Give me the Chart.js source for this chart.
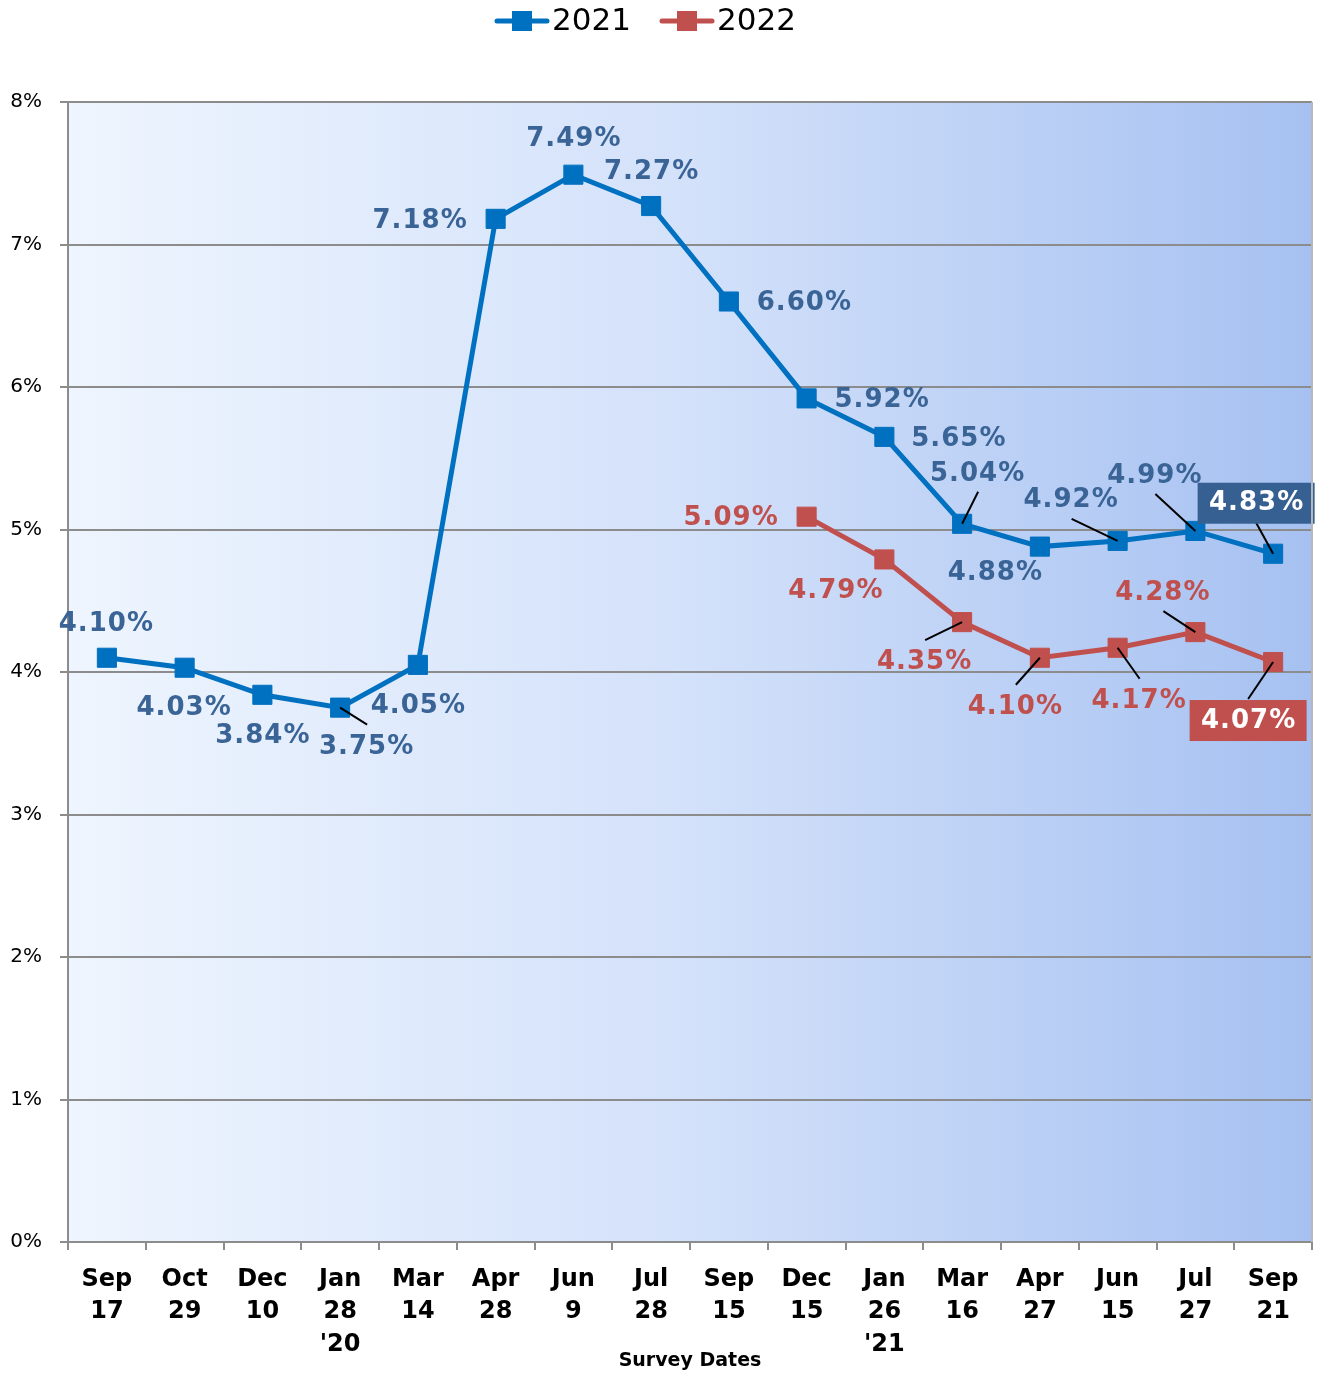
<!DOCTYPE html>
<html><head><meta charset="utf-8">
<script src="https://cdn.jsdelivr.net/npm/chart.js@4"></script>
<style>html,body{margin:0;padding:0;background:#fff}#wrap{width:1319px;height:1374px;position:relative}</style>
</head><body><div id="wrap"><canvas id="c" width="1319" height="1374"></canvas></div>
<script>
// ---- data ----
const categories = [["Sep","17"],["Oct","29"],["Dec","10"],["Jan","28","'20"],["Mar","14"],["Apr","28"],["Jun","9"],["Jul","28"],["Sep","15"],["Dec","15"],["Jan","26","'21"],["Mar","16"],["Apr","27"],["Jun","15"],["Jul","27"],["Sep","21"]];
const seriesNames = ["2021","2022"];
const series2021 = [4.10,4.03,3.84,3.75,4.05,7.18,7.49,7.27,6.60,5.92,5.65,5.04,4.88,4.92,4.99,4.83];
const series2022 = [null,null,null,null,null,null,null,null,null,5.09,4.79,4.35,4.10,4.17,4.28,4.07];
const yTickValues = [0,1,2,3,4,5,6,7,8];
const xTitle = "Survey Dates";

// ---- label layout (offsets from the point, px) ----
const labelLayout2021 = [
  {dx:-1,dy:-35},{dx:-1,dy:40},{dx:0,dy:40},{dx:26,dy:39,lx:27,ly:17},{dx:0,dy:40},
  {dx:-76,dy:1},{dx:0,dy:-36},{dx:0,dy:-35},{dx:75,dy:1},{dx:75,dy:1},{dx:74,dy:1},
  {dx:15,dy:-51,lx:16,ly:-32},{dx:-45,dy:26},{dx:-47,dy:-42,lx:-46,ly:-22},
  {dx:-41,dy:-56,lx:-40,ly:-37},{dx:-17,dy:-51,lx:-17,ly:-31,box:true}
];
const labelLayout2022 = [
  null,null,null,null,null,null,null,null,null,
  {dx:-76,dy:1},{dx:-49,dy:31},{dx:-38,dy:39,lx:-37,ly:18},{dx:-25,dy:48,lx:-24,ly:27},
  {dx:21,dy:52,lx:22,ly:31},{dx:-33,dy:-40,lx:-32,ly:-21},{dx:-25,dy:58,lx:-25,ly:37,box:true}
];

const BLUE = '#0070c0', RED = '#c0504d', BLUE_TXT = '#3a6496', BLUE_BOX = '#376092';
const GRID = '#8c8c8c';

const bgPlugin = {
  id: 'bg',
  beforeDraw(chart) {
    const {ctx, chartArea: a} = chart;
    const g = ctx.createLinearGradient(a.left, 0, a.right, 0);
    g.addColorStop(0, '#eef5fe');
    g.addColorStop(0.5, '#d3e1fa');
    g.addColorStop(1, '#a6c1f1');
    ctx.save();
    ctx.fillStyle = g;
    ctx.fillRect(a.left, a.top, a.right - a.left, a.bottom - a.top);
    ctx.restore();
  },
  afterDraw(chart) {
    const {ctx, chartArea: a} = chart;
    ctx.save();
    ctx.strokeStyle = '#b8b8b8';
    ctx.lineWidth = 2;
    ctx.beginPath();
    ctx.moveTo(a.right, a.top); ctx.lineTo(a.right, a.bottom);
    ctx.stroke();
    ctx.restore();
  }
};

const labelPlugin = {
  id: 'dlabels',
  afterDatasetsDraw(chart) {
    const ctx = chart.ctx;
    const layouts = [labelLayout2021, labelLayout2022];
    const txtColors = [BLUE_TXT, RED];
    const boxColors = [BLUE_BOX, RED];
    ctx.save();
    ctx.font = 'bold 26px "DejaVu Sans"';
    try { ctx.letterSpacing = '1px'; } catch(e) {}
    ctx.textAlign = 'center';
    ctx.textBaseline = 'middle';
    chart.data.datasets.forEach((ds, di) => {
      const meta = chart.getDatasetMeta(di);
      ds.data.forEach((v, i) => {
        const L = layouts[di][i];
        if (v === null || !L) return;
        const p = meta.data[i];
        const x = p.x, y = p.y;
        const txt = v.toFixed(2) + '%';
        if (L.lx !== undefined) {
          ctx.strokeStyle = '#000';
          ctx.lineWidth = 2;
          ctx.beginPath();
          ctx.moveTo(x, y);
          ctx.lineTo(x + L.lx, y + L.ly);
          ctx.stroke();
        }
        if (L.box) {
          ctx.fillStyle = boxColors[di];
          ctx.fillRect(x + L.dx - 58.5, y + L.dy - 20, 117, 41);
          ctx.fillStyle = '#fff';
        } else {
          ctx.fillStyle = txtColors[di];
        }
        ctx.fillText(txt, x + L.dx + 0.5, y + L.dy + 1);
      });
    });
    ctx.restore();
  }
};

const legendPlugin = {
  id: 'mylegend',
  afterDraw(chart) {
    const ctx = chart.ctx;
    const items = [
      {color: BLUE, x0: 495, text: seriesNames[0]},
      {color: RED, x0: 660, text: seriesNames[1]}
    ];
    ctx.save();
    ctx.font = '31px "DejaVu Sans"';
    ctx.textBaseline = 'middle';
    ctx.textAlign = 'left';
    items.forEach(it => {
      const y = 21;
      ctx.strokeStyle = it.color;
      ctx.lineWidth = 5;
      ctx.lineCap = 'round';
      ctx.beginPath();
      ctx.moveTo(it.x0 + 2, y); ctx.lineTo(it.x0 + 52, y);
      ctx.stroke();
      ctx.fillStyle = it.color;
      ctx.fillRect(it.x0 + 17, y - 10, 20, 20);
      ctx.fillStyle = '#000';
      ctx.fillText(it.text, it.x0 + 57, y + 1);
    });
    ctx.restore();
  }
};

new Chart(document.getElementById('c'), {
  type: 'line',
  data: {
    labels: categories,
    datasets: [
      {label: seriesNames[0], data: series2021, borderColor: BLUE, backgroundColor: BLUE,
       borderWidth: 5, pointStyle: 'rect', pointRadius: 13.5, pointBorderWidth: 1,
       pointBackgroundColor: BLUE, pointBorderColor: BLUE, tension: 0},
      {label: seriesNames[1], data: series2022, borderColor: RED, backgroundColor: RED,
       borderWidth: 5, pointStyle: 'rect', pointRadius: 13.5, pointBorderWidth: 1,
       pointBackgroundColor: RED, pointBorderColor: RED, tension: 0, spanGaps: false}
    ]
  },
  options: {
    responsive: false,
    animation: false,
    devicePixelRatio: 1,
    layout: {autoPadding: false, padding: {top: 102, right: 7, left: 0, bottom: 0}},
    plugins: {legend: {display: false}, tooltip: {enabled: false}},
    scales: {
      x: {
        offset: true,
        grid: {offset: true, drawOnChartArea: false, drawTicks: true, tickLength: 8, color: GRID, lineWidth: 2},
        border: {display: true, color: GRID, width: 2},
        ticks: {color: '#000', font: {family: 'DejaVu Sans', size: 24, weight: 'bold', lineHeight: 1.34},
                padding: 14, maxRotation: 0, autoSkip: false},
        title: {display: true, text: xTitle, color: '#000',
                font: {family: 'DejaVu Sans', size: 19, weight: 'bold', lineHeight: 1.2},
                padding: {top: 0, bottom: 2}},
        afterFit(s) { s.height = 132; s.paddingLeft = 0; s.paddingRight = 0; }
      },
      y: {
        min: 0, max: 8,
        afterBuildTicks(s) { s.ticks = yTickValues.map(v => ({value: v})); },
        grid: {color: GRID, lineWidth: 2, drawTicks: true, tickLength: 8},
        border: {display: true, color: GRID, width: 2},
        ticks: {color: '#000', font: {family: 'DejaVu Sans', size: 20}, padding: 18,
                callback: v => v + '%'},
        afterFit(s) { s.width = 68; }
      }
    }
  },
  plugins: [bgPlugin, labelPlugin, legendPlugin]
});
</script></body></html>
